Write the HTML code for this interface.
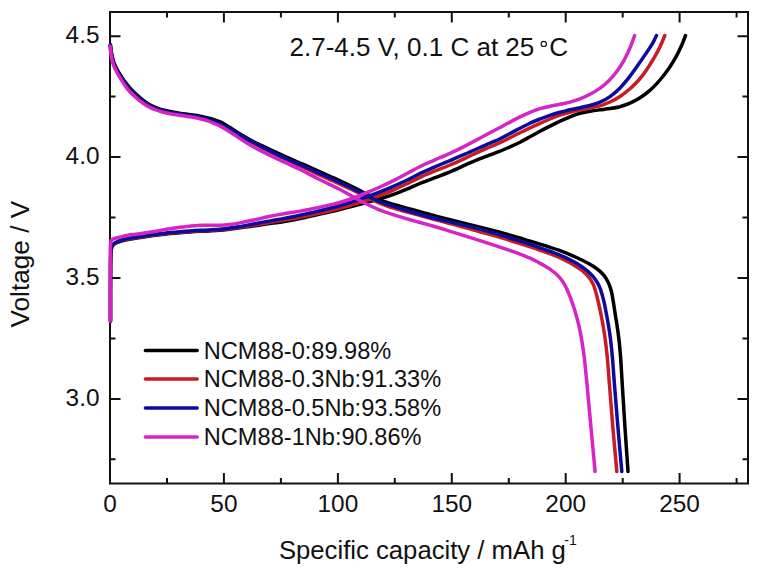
<!DOCTYPE html>
<html><head><meta charset="utf-8"><style>
html,body{margin:0;padding:0;background:#fff;width:762px;height:576px;overflow:hidden}
svg{display:block}
text{font-family:"Liberation Sans",sans-serif;font-size:24px;fill:#111}
.lg{font-size:23.6px}
.ti{font-size:25.7px}
.an{font-size:26px}
.yt{font-size:26.2px}
.sup{font-size:14px}
.tk{font-size:24.4px}
</style></head><body>
<svg width="762" height="576" viewBox="0 0 762 576">
<rect width="762" height="576" fill="#fff"/>
<g fill="none" stroke="#111" stroke-width="2">
<path d="M110.0 483.5 V473.0 M110.0 12.0 V22.5 M223.9 483.5 V473.0 M223.9 12.0 V22.5 M337.9 483.5 V473.0 M337.9 12.0 V22.5 M451.8 483.5 V473.0 M451.8 12.0 V22.5 M565.7 483.5 V473.0 M565.7 12.0 V22.5 M679.6 483.5 V473.0 M679.6 12.0 V22.5 M167.0 483.5 V478.0 M167.0 12.0 V17.5 M280.9 483.5 V478.0 M280.9 12.0 V17.5 M394.8 483.5 V478.0 M394.8 12.0 V17.5 M508.8 483.5 V478.0 M508.8 12.0 V17.5 M622.7 483.5 V478.0 M622.7 12.0 V17.5 M736.6 483.5 V478.0 M736.6 12.0 V17.5 M110.0 398.9 H120.5 M748.0 398.9 H737.5 M110.0 278.0 H120.5 M748.0 278.0 H737.5 M110.0 157.1 H120.5 M748.0 157.1 H737.5 M110.0 36.2 H120.5 M748.0 36.2 H737.5 M110.0 459.3 H115.5 M748.0 459.3 H742.5 M110.0 338.4 H115.5 M748.0 338.4 H742.5 M110.0 217.5 H115.5 M748.0 217.5 H742.5 M110.0 96.6 H115.5 M748.0 96.6 H742.5"/>
<rect x="110.0" y="12.0" width="638.0" height="471.5"/>
</g>
<g fill="none" stroke-width="3.5" stroke-linecap="round" stroke-linejoin="round">
<path d="M110.5 321.4 C110.5 317.2 110.5 304.9 110.5 296.1 C110.5 287.4 110.5 276.3 110.6 269.1 C110.6 262.0 110.7 256.6 110.9 253.1 C111.1 249.5 111.3 248.9 111.7 247.6 C112.1 246.3 112.4 245.8 113.2 245.1 C113.9 244.3 114.7 243.7 116.3 243.0 C117.8 242.3 120.0 241.5 122.4 240.8 C124.8 240.1 128.0 239.5 130.9 238.9 C133.9 238.4 137.1 237.9 140.2 237.4 C143.4 236.9 146.7 236.5 150.0 236.0 C153.3 235.6 156.7 235.1 160.0 234.7 C163.3 234.3 166.7 234.0 170.0 233.6 C173.3 233.3 176.7 233.0 180.0 232.7 C183.3 232.4 186.7 232.1 190.0 231.9 C193.3 231.7 196.7 231.5 200.0 231.3 C203.3 231.1 206.7 231.0 210.0 230.9 C213.3 230.7 216.7 230.5 220.0 230.2 C223.3 230.0 226.7 229.5 230.0 229.1 C233.3 228.7 236.7 228.2 240.0 227.8 C243.3 227.3 246.7 226.9 250.0 226.4 C253.3 225.9 256.7 225.4 260.0 224.9 C263.3 224.5 266.7 224.0 270.0 223.5 C273.3 223.1 276.7 222.7 280.0 222.2 C283.3 221.7 286.7 221.1 290.0 220.5 C293.3 219.9 296.7 219.2 300.0 218.5 C303.3 217.8 306.7 217.1 310.0 216.4 C313.3 215.7 316.7 214.9 320.0 214.1 C323.3 213.4 326.6 212.6 330.0 211.8 C333.4 211.0 336.8 210.2 340.5 209.2 C344.2 208.3 348.1 207.3 352.2 206.2 C356.4 205.1 360.9 203.9 365.5 202.7 C370.1 201.4 375.1 200.2 380.0 198.7 C384.9 197.3 390.2 195.6 395.0 193.8 C399.8 192.1 404.4 190.1 408.8 188.3 C413.1 186.5 416.9 184.7 421.2 182.9 C425.6 181.1 430.2 179.4 435.0 177.6 C439.8 175.8 445.0 173.9 450.0 171.8 C455.0 169.8 460.2 167.3 465.0 165.1 C469.8 163.0 474.6 160.8 478.8 159.1 C482.9 157.4 486.5 156.2 490.0 154.9 C493.5 153.6 496.7 152.5 500.0 151.2 C503.3 149.8 506.7 148.4 510.0 146.9 C513.3 145.4 516.7 143.8 520.0 142.2 C523.3 140.5 526.7 138.6 530.0 136.8 C533.3 135.0 536.7 133.1 540.0 131.3 C543.3 129.5 546.7 127.8 550.0 126.1 C553.3 124.4 556.7 122.8 560.0 121.2 C563.3 119.7 566.7 118.1 570.0 116.8 C573.3 115.5 576.7 114.2 580.0 113.3 C583.3 112.4 586.7 111.7 590.0 111.2 C593.3 110.6 596.7 110.2 600.0 109.8 C603.3 109.4 606.7 109.1 610.0 108.6 C613.3 108.1 616.7 107.6 620.0 106.7 C623.3 105.7 626.7 104.5 630.0 103.1 C633.3 101.7 636.6 99.9 639.7 98.0 C642.8 96.1 645.8 93.9 648.7 91.4 C651.6 89.0 654.4 86.1 657.0 83.4 C659.5 80.7 661.8 77.8 663.9 75.2 C665.9 72.6 667.6 70.2 669.3 67.8 C671.0 65.4 672.4 63.2 673.8 60.7 C675.3 58.2 676.7 55.7 678.0 53.0 C679.4 50.3 680.7 47.4 682.0 44.5 C683.2 41.6 684.9 37.0 685.5 35.5" stroke="#000000"/>
<path d="M110.0 45.5 C110.3 47.1 111.0 52.1 111.7 54.9 C112.3 57.7 113.0 60.0 113.8 62.3 C114.7 64.7 115.7 66.7 116.8 68.8 C117.9 71.0 119.2 73.2 120.5 75.2 C121.8 77.3 123.2 79.4 124.6 81.4 C126.1 83.4 127.6 85.3 129.2 87.2 C130.9 89.1 132.6 90.9 134.5 92.7 C136.4 94.5 138.2 96.3 140.4 98.0 C142.5 99.7 144.9 101.6 147.2 103.1 C149.6 104.6 152.2 106.0 154.8 107.1 C157.2 108.2 159.7 109.0 162.2 109.8 C164.8 110.5 167.4 111.0 170.0 111.5 C172.6 112.0 175.4 112.5 178.0 112.9 C180.6 113.3 183.2 113.7 185.8 114.0 C188.2 114.4 190.6 114.7 193.0 115.0 C195.4 115.4 197.7 115.7 200.0 116.2 C202.3 116.7 204.5 117.3 206.8 117.8 C209.0 118.3 210.9 118.6 213.2 119.3 C215.6 120.0 218.0 120.7 220.8 122.0 C223.5 123.4 226.8 125.5 230.0 127.5 C233.2 129.5 236.7 132.1 240.0 134.1 C243.3 136.1 246.7 138.0 250.0 139.8 C253.3 141.6 256.7 143.2 260.0 144.8 C263.3 146.4 266.7 148.0 270.0 149.6 C273.3 151.1 276.7 152.7 280.0 154.2 C283.3 155.8 286.7 157.3 290.0 158.7 C293.3 160.2 296.7 161.6 300.0 163.0 C303.3 164.4 306.7 165.8 310.0 167.3 C313.3 168.8 316.7 170.3 320.0 171.8 C323.3 173.3 326.7 174.8 330.0 176.3 C333.3 177.8 336.7 179.2 340.0 180.8 C343.3 182.4 346.7 183.9 350.0 185.6 C353.3 187.2 356.7 188.9 360.0 190.6 C363.3 192.3 366.7 194.1 370.0 195.6 C373.3 197.2 376.7 198.7 380.0 200.0 C383.3 201.3 386.2 202.2 390.0 203.4 C393.8 204.5 397.5 205.5 402.5 206.9 C407.5 208.2 413.8 210.0 420.0 211.8 C426.2 213.5 433.3 215.5 440.0 217.2 C446.7 218.9 453.3 220.5 460.0 222.2 C466.7 223.8 473.3 225.4 480.0 227.1 C486.7 228.8 493.3 230.5 500.0 232.3 C506.7 234.1 513.3 236.1 520.0 238.0 C526.7 240.0 533.5 242.0 540.0 244.1 C546.5 246.1 553.2 248.2 558.8 250.2 C564.3 252.2 569.3 254.3 573.4 256.1 C577.6 257.8 580.6 259.4 583.7 261.0 C586.8 262.5 589.4 263.9 592.0 265.5 C594.5 267.1 596.9 268.7 598.9 270.4 C600.9 272.1 602.6 273.9 604.1 275.7 C605.6 277.6 606.7 279.5 607.8 281.5 C608.8 283.5 609.6 285.6 610.4 287.9 C611.1 290.1 611.6 292.4 612.2 295.1 C612.7 297.9 613.1 300.8 613.7 304.2 C614.3 307.7 614.9 312.0 615.5 316.0 C616.2 320.1 616.9 324.3 617.5 328.6 C618.1 332.8 618.6 336.5 619.2 341.5 C619.7 346.5 620.1 351.2 620.7 358.4 C621.2 365.7 621.6 374.1 622.3 385.1 C623.0 396.1 623.8 410.2 624.8 424.6 C625.7 439.0 627.5 463.7 628.0 471.5" stroke="#000000"/>
<path d="M110.5 320.9 C110.5 316.7 110.5 304.4 110.5 295.6 C110.5 286.9 110.5 275.8 110.6 268.6 C110.6 261.5 110.7 256.1 110.9 252.6 C111.1 249.0 111.3 248.4 111.7 247.1 C112.1 245.8 112.4 245.3 113.2 244.6 C113.9 243.8 114.7 243.2 116.3 242.5 C117.8 241.8 120.0 241.0 122.4 240.3 C124.8 239.6 128.0 239.0 130.9 238.4 C133.9 237.9 137.1 237.4 140.2 236.9 C143.4 236.4 146.7 236.0 150.0 235.5 C153.3 235.1 156.7 234.6 160.0 234.2 C163.3 233.8 166.7 233.5 170.0 233.1 C173.3 232.8 176.7 232.5 180.0 232.2 C183.3 231.9 186.7 231.6 190.0 231.4 C193.3 231.2 196.7 231.0 200.0 230.8 C203.3 230.6 206.7 230.5 210.0 230.4 C213.3 230.2 216.7 230.0 220.0 229.8 C223.3 229.5 226.7 229.0 230.0 228.6 C233.3 228.2 236.7 227.7 240.0 227.2 C243.3 226.8 246.7 226.3 250.0 225.8 C253.3 225.2 256.7 224.6 260.0 224.1 C263.3 223.5 266.7 222.9 270.0 222.4 C273.3 221.8 276.7 221.4 280.0 220.8 C283.3 220.3 286.7 219.7 290.0 219.1 C293.3 218.5 296.7 217.9 300.0 217.2 C303.3 216.5 306.7 215.9 310.0 215.2 C313.3 214.5 316.7 213.8 320.0 213.1 C323.3 212.4 326.6 211.6 330.0 210.8 C333.4 209.9 336.8 209.1 340.5 208.1 C344.2 207.1 348.1 206.0 352.2 204.8 C356.4 203.5 360.9 202.2 365.5 200.7 C370.1 199.1 375.1 197.5 380.0 195.6 C384.9 193.7 390.2 191.5 395.0 189.3 C399.8 187.2 404.4 184.9 408.8 182.8 C413.1 180.7 416.9 178.8 421.2 176.8 C425.6 174.8 430.2 172.9 435.0 170.9 C439.8 169.0 445.0 167.1 450.0 165.0 C455.0 162.9 460.2 160.5 465.0 158.3 C469.8 156.1 474.6 153.7 478.8 151.8 C482.9 150.0 486.5 148.5 490.0 147.0 C493.5 145.5 496.7 144.2 500.0 142.7 C503.3 141.2 506.7 139.5 510.0 137.8 C513.3 136.1 516.7 134.3 520.0 132.7 C523.3 131.1 526.7 129.5 530.0 127.9 C533.3 126.4 536.7 124.9 540.0 123.4 C543.3 121.9 546.7 120.4 550.0 119.0 C553.3 117.6 556.7 116.2 560.0 115.1 C563.3 114.0 566.7 113.0 570.0 112.2 C573.3 111.3 576.7 110.6 580.0 110.0 C583.3 109.3 586.7 108.8 590.0 108.1 C593.3 107.4 596.7 106.8 600.0 105.8 C603.3 104.8 606.7 103.5 610.0 102.0 C613.3 100.5 616.7 98.7 620.0 96.5 C623.3 94.3 626.9 91.5 630.0 88.8 C633.1 86.1 636.2 82.8 638.8 80.0 C641.2 77.3 643.1 74.7 645.0 72.1 C646.9 69.5 648.3 67.2 650.0 64.5 C651.7 61.8 653.5 58.9 655.2 55.8 C657.0 52.7 658.8 49.3 660.4 45.9 C662.0 42.5 664.1 37.2 664.8 35.5" stroke="#c81c24"/>
<path d="M110.5 45.1 C110.7 46.7 111.2 52.1 111.7 55.0 C112.1 57.9 112.7 60.3 113.5 62.6 C114.2 65.0 115.2 67.0 116.2 69.2 C117.3 71.4 118.6 73.6 119.8 75.7 C121.0 77.8 122.3 80.0 123.7 82.0 C125.1 84.1 126.3 86.0 127.9 88.0 C129.5 90.0 131.4 92.0 133.4 94.0 C135.5 96.0 137.9 98.1 140.3 100.0 C142.7 101.8 145.3 103.6 147.8 105.0 C150.2 106.5 152.8 107.7 155.2 108.7 C157.8 109.8 160.2 110.5 162.8 111.2 C165.3 111.9 167.9 112.4 170.5 112.9 C173.1 113.4 175.9 113.8 178.5 114.2 C181.1 114.7 183.8 115.0 186.2 115.4 C188.8 115.8 191.1 116.1 193.5 116.5 C195.9 116.9 198.2 117.3 200.5 117.9 C202.8 118.4 205.1 119.2 207.2 119.8 C209.4 120.5 211.4 121.2 213.6 122.0 C215.9 122.9 218.1 123.7 220.9 125.0 C223.6 126.3 226.8 128.2 230.0 130.0 C233.2 131.8 236.7 134.0 240.0 135.9 C243.3 137.8 246.7 139.6 250.0 141.4 C253.3 143.2 256.7 144.9 260.0 146.6 C263.3 148.4 266.7 150.1 270.0 151.8 C273.3 153.5 276.7 155.2 280.0 156.8 C283.3 158.4 286.7 159.9 290.0 161.4 C293.3 162.9 296.7 164.4 300.0 165.9 C303.3 167.4 306.7 169.0 310.0 170.5 C313.3 172.0 316.7 173.6 320.0 175.1 C323.3 176.6 326.7 178.1 330.0 179.6 C333.3 181.1 336.7 182.5 340.0 184.1 C343.3 185.6 346.7 187.1 350.0 188.8 C353.3 190.4 356.7 192.1 360.0 193.8 C363.3 195.5 366.7 197.3 370.0 198.8 C373.3 200.4 376.7 202.0 380.0 203.4 C383.3 204.7 386.2 205.8 390.0 207.0 C393.8 208.2 397.5 209.3 402.5 210.7 C407.5 212.1 413.8 213.8 420.0 215.5 C426.2 217.2 433.3 219.1 440.0 220.9 C446.7 222.7 453.3 224.5 460.0 226.2 C466.7 228.0 473.3 229.8 480.0 231.7 C486.7 233.6 493.3 235.4 500.0 237.4 C506.7 239.4 513.3 241.5 520.0 243.7 C526.7 245.8 533.8 248.1 540.0 250.3 C546.2 252.5 552.7 254.7 557.5 256.7 C562.3 258.7 565.9 260.6 569.0 262.2 C572.1 263.9 573.9 265.1 576.2 266.6 C578.6 268.1 580.8 269.5 582.9 271.2 C585.0 273.0 587.1 275.1 588.8 277.1 C590.5 279.2 591.7 281.2 592.9 283.6 C594.0 286.0 594.8 288.4 595.7 291.7 C596.7 294.9 597.6 298.9 598.5 303.0 C599.5 307.1 600.5 311.8 601.3 316.0 C602.1 320.3 602.9 324.3 603.6 328.6 C604.3 332.8 604.8 336.5 605.5 341.5 C606.1 346.5 606.7 351.2 607.4 358.4 C608.0 365.7 608.7 374.1 609.5 385.1 C610.4 396.1 611.4 410.2 612.6 424.6 C613.9 439.0 616.1 463.7 616.8 471.5" stroke="#c81c24"/>
<path d="M110.5 320.4 C110.5 316.2 110.5 303.9 110.5 295.1 C110.5 286.4 110.5 275.3 110.6 268.1 C110.6 261.0 110.7 255.6 110.9 252.1 C111.1 248.5 111.3 247.9 111.7 246.6 C112.1 245.3 112.4 244.8 113.2 244.1 C113.9 243.3 114.7 242.7 116.3 242.0 C117.8 241.3 120.0 240.5 122.4 239.8 C124.8 239.1 128.0 238.5 130.9 237.9 C133.9 237.4 137.1 236.9 140.2 236.4 C143.4 235.9 146.7 235.5 150.0 235.0 C153.3 234.6 156.7 234.1 160.0 233.7 C163.3 233.3 166.7 233.0 170.0 232.6 C173.3 232.3 176.7 232.0 180.0 231.7 C183.3 231.4 186.7 231.1 190.0 230.9 C193.3 230.7 196.7 230.5 200.0 230.3 C203.3 230.1 206.7 230.0 210.0 229.9 C213.3 229.7 216.7 229.5 220.0 229.2 C223.3 229.0 226.7 228.6 230.0 228.1 C233.3 227.7 236.7 227.1 240.0 226.6 C243.3 226.0 246.7 225.3 250.0 224.7 C253.3 224.1 256.7 223.3 260.0 222.7 C263.3 222.1 266.7 221.4 270.0 220.9 C273.3 220.3 276.7 219.7 280.0 219.1 C283.3 218.5 286.7 217.9 290.0 217.2 C293.3 216.6 296.7 215.9 300.0 215.2 C303.3 214.5 306.7 213.7 310.0 213.0 C313.3 212.2 316.7 211.5 320.0 210.7 C323.3 209.9 326.6 209.1 330.0 208.3 C333.4 207.4 336.8 206.5 340.5 205.5 C344.2 204.4 348.1 203.2 352.2 201.8 C356.4 200.5 360.9 199.0 365.5 197.4 C370.1 195.7 375.1 193.9 380.0 192.0 C384.9 190.1 390.2 187.8 395.0 185.7 C399.8 183.5 404.4 181.3 408.8 179.2 C413.1 177.0 416.9 175.0 421.2 172.9 C425.6 170.9 430.2 168.8 435.0 166.8 C439.8 164.7 445.0 162.7 450.0 160.6 C455.0 158.5 460.2 156.3 465.0 154.2 C469.8 152.1 474.6 149.9 478.8 148.0 C482.9 146.2 486.5 144.7 490.0 143.2 C493.5 141.6 496.7 140.3 500.0 138.7 C503.3 137.1 506.7 135.3 510.0 133.5 C513.3 131.8 516.7 129.9 520.0 128.2 C523.3 126.5 526.7 124.8 530.0 123.2 C533.3 121.7 536.7 120.3 540.0 119.0 C543.3 117.6 546.7 116.4 550.0 115.3 C553.3 114.2 556.7 113.2 560.0 112.2 C563.3 111.3 566.7 110.6 570.0 109.8 C573.3 109.0 576.7 108.4 580.0 107.7 C583.3 106.9 586.7 106.3 590.0 105.4 C593.3 104.5 596.7 103.6 600.0 102.2 C603.3 100.7 606.7 99.0 610.0 96.6 C613.3 94.3 616.7 91.4 620.0 88.0 C623.3 84.6 626.8 80.2 630.0 76.2 C633.2 72.1 636.4 67.3 639.0 63.6 C641.6 60.0 643.7 56.8 645.5 54.1 C647.3 51.5 648.6 49.7 649.9 47.6 C651.2 45.6 652.3 43.8 653.4 41.8 C654.5 39.7 656.0 36.5 656.5 35.5" stroke="#0c0c9c"/>
<path d="M110.5 44.6 C110.7 46.2 111.2 51.6 111.7 54.5 C112.1 57.4 112.7 59.8 113.5 62.1 C114.2 64.5 115.2 66.5 116.2 68.7 C117.3 70.9 118.6 73.1 119.8 75.2 C121.0 77.3 122.3 79.5 123.7 81.5 C125.1 83.6 126.3 85.5 127.9 87.5 C129.5 89.5 131.4 91.5 133.4 93.5 C135.5 95.5 137.9 97.6 140.3 99.5 C142.7 101.3 145.3 103.1 147.8 104.5 C150.2 106.0 152.8 107.2 155.2 108.2 C157.8 109.2 160.2 110.0 162.8 110.7 C165.3 111.4 167.9 111.9 170.5 112.4 C173.1 112.9 175.9 113.3 178.5 113.8 C181.1 114.2 183.8 114.5 186.2 114.9 C188.8 115.3 191.1 115.6 193.5 116.0 C195.9 116.4 198.2 116.8 200.5 117.4 C202.8 117.9 205.1 118.7 207.2 119.3 C209.4 120.0 211.4 120.7 213.6 121.5 C215.9 122.4 218.1 123.2 220.9 124.5 C223.6 125.8 226.8 127.6 230.0 129.4 C233.2 131.2 236.7 133.3 240.0 135.2 C243.3 137.1 246.7 138.9 250.0 140.7 C253.3 142.5 256.7 144.1 260.0 145.9 C263.3 147.6 266.7 149.3 270.0 151.0 C273.3 152.7 276.7 154.4 280.0 155.9 C283.3 157.5 286.7 158.9 290.0 160.4 C293.3 161.9 296.7 163.2 300.0 164.7 C303.3 166.1 306.7 167.6 310.0 169.1 C313.3 170.5 316.7 172.1 320.0 173.6 C323.3 175.0 326.7 176.5 330.0 178.0 C333.3 179.5 336.7 180.9 340.0 182.5 C343.3 184.1 346.7 185.6 350.0 187.3 C353.3 188.9 356.7 190.7 360.0 192.4 C363.3 194.1 366.7 195.9 370.0 197.4 C373.3 199.0 376.7 200.6 380.0 201.9 C383.3 203.2 386.2 204.2 390.0 205.4 C393.8 206.6 397.5 207.7 402.5 209.2 C407.5 210.7 413.8 212.6 420.0 214.3 C426.2 216.1 433.3 217.9 440.0 219.6 C446.7 221.3 453.3 222.7 460.0 224.2 C466.7 225.8 473.3 227.4 480.0 229.1 C486.7 230.9 493.3 232.8 500.0 234.9 C506.7 236.9 513.3 239.0 520.0 241.2 C526.7 243.3 533.5 245.5 540.0 247.8 C546.5 250.0 553.2 252.3 558.8 254.6 C564.3 256.8 569.3 259.3 573.4 261.5 C577.5 263.7 580.5 265.6 583.2 267.6 C586.0 269.6 588.2 271.5 590.2 273.5 C592.2 275.5 593.9 277.5 595.4 279.6 C596.9 281.7 598.0 283.7 599.1 286.0 C600.2 288.3 601.0 290.6 601.8 293.6 C602.7 296.5 603.5 299.9 604.4 303.7 C605.2 307.4 606.0 311.9 606.8 316.0 C607.6 320.2 608.3 324.3 609.0 328.6 C609.6 332.8 610.2 336.5 610.8 341.5 C611.4 346.5 611.9 351.2 612.5 358.4 C613.1 365.7 613.7 374.1 614.5 385.1 C615.4 396.1 616.5 410.2 617.7 424.6 C618.9 439.0 621.1 463.7 621.8 471.5" stroke="#0c0c9c"/>
<path d="M110.2 321.0 C110.2 316.3 110.2 302.8 110.2 292.8 C110.2 282.7 110.2 268.8 110.2 260.5 C110.3 252.2 110.3 246.7 110.6 243.2 C111.0 239.8 111.4 240.4 112.3 239.6 C113.2 238.7 114.6 238.5 116.2 238.0 C117.8 237.5 119.9 237.0 121.9 236.6 C124.0 236.1 126.2 235.6 128.2 235.2 C130.3 234.9 131.9 234.7 134.2 234.4 C136.4 234.1 138.7 233.8 141.6 233.4 C144.4 233.1 147.9 232.6 151.1 232.1 C154.3 231.5 157.4 231.0 160.6 230.4 C163.7 229.9 166.8 229.2 170.0 228.7 C173.2 228.1 176.8 227.6 180.0 227.2 C183.2 226.8 186.6 226.5 189.5 226.2 C192.4 225.9 194.9 225.6 197.2 225.5 C199.6 225.3 201.2 225.2 203.5 225.2 C205.8 225.2 208.0 225.3 210.8 225.3 C213.5 225.3 216.8 225.3 220.0 225.2 C223.2 225.1 226.7 224.8 230.0 224.4 C233.3 224.1 236.7 223.5 240.0 222.9 C243.3 222.3 246.7 221.6 250.0 220.8 C253.3 220.1 256.7 219.3 260.0 218.6 C263.3 217.8 266.7 217.0 270.0 216.3 C273.3 215.7 276.7 215.0 280.0 214.4 C283.3 213.9 286.7 213.3 290.0 212.8 C293.3 212.2 296.7 211.7 300.0 211.1 C303.3 210.4 306.7 209.8 310.0 209.2 C313.3 208.5 316.7 207.8 320.0 207.1 C323.3 206.4 326.6 205.7 330.0 204.9 C333.4 204.1 336.8 203.4 340.5 202.3 C344.2 201.2 348.1 200.0 352.2 198.5 C356.4 197.0 360.9 195.1 365.5 193.2 C370.1 191.3 375.1 189.2 380.0 187.0 C384.9 184.8 390.2 182.3 395.0 179.9 C399.8 177.5 404.4 174.8 408.8 172.5 C413.1 170.2 416.9 168.1 421.2 166.0 C425.6 163.9 430.2 162.0 435.0 159.8 C439.8 157.7 445.0 155.6 450.0 153.3 C455.0 151.0 460.2 148.5 465.0 146.1 C469.8 143.6 474.6 141.0 478.8 138.8 C482.9 136.6 486.5 134.7 490.0 132.8 C493.5 130.9 496.7 129.2 500.0 127.5 C503.3 125.7 506.7 123.8 510.0 122.1 C513.3 120.3 516.7 118.5 520.0 116.9 C523.3 115.3 526.7 113.7 530.0 112.3 C533.3 110.9 536.7 109.7 540.0 108.7 C543.3 107.7 546.7 106.9 550.0 106.2 C553.3 105.5 556.7 105.0 560.0 104.3 C563.3 103.6 566.7 103.0 570.0 102.1 C573.3 101.2 576.7 100.2 580.0 98.9 C583.3 97.6 586.8 96.0 590.0 94.3 C593.2 92.7 596.3 90.7 599.0 88.9 C601.7 87.0 603.9 85.2 606.1 83.2 C608.3 81.3 610.2 79.4 612.2 77.1 C614.2 74.8 616.2 72.4 618.2 69.5 C620.2 66.6 622.3 63.3 624.3 59.8 C626.2 56.2 628.2 52.1 629.9 48.1 C631.6 44.1 633.8 37.7 634.6 35.6" stroke="#d624c6"/>
<path d="M110.0 45.9 C110.2 47.5 110.7 52.9 111.2 55.8 C111.6 58.7 112.2 61.1 113.0 63.4 C113.7 65.8 114.7 67.8 115.7 70.0 C116.8 72.2 118.1 74.4 119.3 76.5 C120.5 78.6 121.8 80.8 123.2 82.8 C124.6 84.9 125.8 86.8 127.4 88.8 C129.0 90.8 130.9 92.8 132.9 94.8 C135.0 96.8 137.4 98.9 139.8 100.8 C142.2 102.6 144.8 104.4 147.2 105.9 C149.7 107.3 152.2 108.5 154.8 109.5 C157.2 110.5 159.7 111.3 162.2 112.0 C164.8 112.7 167.4 113.2 170.0 113.7 C172.6 114.2 175.4 114.6 178.0 115.0 C180.6 115.5 183.2 115.8 185.8 116.2 C188.2 116.6 190.6 116.9 193.0 117.3 C195.4 117.7 197.7 118.1 200.0 118.7 C202.3 119.2 204.5 119.9 206.8 120.7 C209.0 121.4 210.9 122.1 213.2 123.1 C215.6 124.0 218.0 125.0 220.8 126.4 C223.5 127.9 226.8 129.9 230.0 131.9 C233.2 133.9 236.7 136.4 240.0 138.6 C243.3 140.8 246.7 143.0 250.0 144.9 C253.3 146.9 256.7 148.7 260.0 150.4 C263.3 152.2 266.7 153.8 270.0 155.4 C273.3 157.0 276.7 158.6 280.0 160.1 C283.3 161.7 286.7 163.2 290.0 164.8 C293.3 166.3 296.7 167.9 300.0 169.5 C303.3 171.2 306.7 172.9 310.0 174.6 C313.3 176.3 316.7 178.0 320.0 179.7 C323.3 181.3 326.6 182.9 330.0 184.6 C333.4 186.3 336.8 187.9 340.5 189.8 C344.2 191.8 348.1 194.1 352.2 196.3 C356.4 198.6 361.1 201.3 365.5 203.5 C369.9 205.7 374.7 207.9 378.8 209.6 C382.8 211.2 386.2 212.4 390.0 213.7 C393.8 214.9 397.1 215.9 401.2 217.1 C405.4 218.3 410.4 219.8 415.0 221.1 C419.6 222.4 424.2 223.6 428.8 224.9 C433.3 226.2 437.3 227.3 442.5 228.8 C447.7 230.4 453.8 232.3 460.0 234.3 C466.2 236.2 473.3 238.5 480.0 240.6 C486.7 242.8 493.8 245.1 500.0 247.1 C506.2 249.2 512.5 251.3 517.5 253.1 C522.5 255.0 526.5 256.6 530.0 258.2 C533.5 259.8 536.2 261.3 538.8 262.6 C541.3 263.9 543.2 265.0 545.3 266.3 C547.4 267.5 549.3 268.6 551.3 270.1 C553.3 271.5 555.4 273.2 557.2 275.1 C559.1 276.9 560.9 279.0 562.5 281.3 C564.0 283.5 565.4 286.0 566.6 288.6 C567.9 291.1 568.9 293.9 570.0 296.7 C571.1 299.4 572.0 302.1 573.0 305.0 C574.0 307.9 574.9 310.8 575.9 314.3 C576.9 317.8 578.0 321.7 579.0 326.1 C580.0 330.5 580.9 335.2 581.8 340.6 C582.7 346.0 583.6 352.0 584.4 358.4 C585.1 364.9 585.8 372.2 586.5 379.2 C587.2 386.3 587.9 393.5 588.5 400.9 C589.2 408.2 589.9 415.7 590.6 423.4 C591.3 431.2 592.1 439.2 592.8 447.2 C593.6 455.2 594.7 467.5 595.1 471.5" stroke="#d624c6"/>
</g>
<g fill="none" stroke-linecap="round"><path d="M145.4 350.4 H197.2" stroke="#000000" stroke-width="3.5"/><path d="M145.4 379.1 H197.2" stroke="#c81c24" stroke-width="3.5"/><path d="M145.4 408.1 H197.2" stroke="#0c0c9c" stroke-width="3.5"/><path d="M145.4 437.0 H197.2" stroke="#d624c6" stroke-width="3.5"/></g>
<text x="203.8" y="358.6" class="lg">NCM88-0:89.98%</text><text x="203.8" y="387.3" class="lg">NCM88-0.3Nb:91.33%</text><text x="203.8" y="416.3" class="lg">NCM88-0.5Nb:93.58%</text><text x="203.8" y="445.2" class="lg">NCM88-1Nb:90.86%</text>
<text x="99.5" y="42.8" text-anchor="end" class="tk">4.5</text><text x="99.5" y="163.7" text-anchor="end" class="tk">4.0</text><text x="99.5" y="284.6" text-anchor="end" class="tk">3.5</text><text x="99.5" y="405.5" text-anchor="end" class="tk">3.0</text>
<text x="110.0" y="512.4" text-anchor="middle" class="tk">0</text><text x="223.9" y="512.4" text-anchor="middle" class="tk">50</text><text x="337.9" y="512.4" text-anchor="middle" class="tk">100</text><text x="451.8" y="512.4" text-anchor="middle" class="tk">150</text><text x="565.7" y="512.4" text-anchor="middle" class="tk">200</text><text x="679.6" y="512.4" text-anchor="middle" class="tk">250</text>
<text x="278.9" y="558.7" class="ti">Specific capacity / mAh g</text>
<text x="564.3" y="544.9" class="sup">-1</text>
<text transform="translate(29.2,327.5) rotate(-90)" x="0" y="0" class="yt">Voltage / V</text>
<text x="289.5" y="56.2" class="an">2.7-4.5 V, 0.1 C at 25</text>
<circle cx="543.8" cy="43.9" r="2.6" fill="none" stroke="#111" stroke-width="1.2"/>
<text x="549.3" y="56.2" class="an">C</text>
</svg>
</body></html>
